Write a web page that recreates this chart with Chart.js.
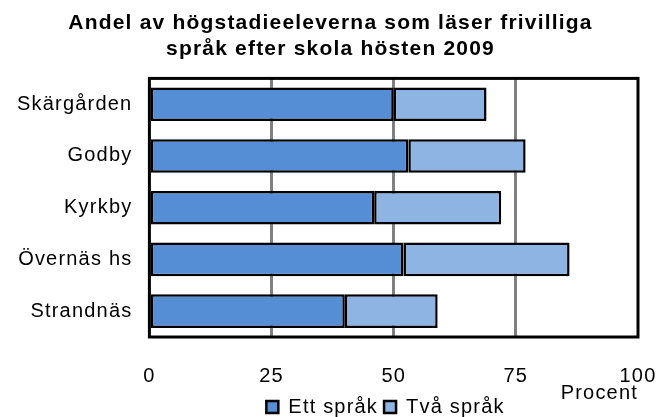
<!DOCTYPE html>
<html>
<head>
<meta charset="utf-8">
<script src="https://cdn.jsdelivr.net/npm/chart.js@4"></script>
<style>
  html, body { margin: 0; padding: 0; background: #fff; }
  #wrap { width: 661px; height: 417px; }
</style>
</head>
<body>
<div id="wrap"><canvas id="chart"></canvas></div>
<script>
const schools = ["Skärgården", "Godby", "Kyrkby", "Övernäs hs", "Strandnäs"];
const ettSprak = [50, 53, 46, 52, 40];
const tvaSprak = [19, 24, 26, 34, 19];
const xTicks = [0, 25, 50, 75, 100];

const fontFamily = "'Liberation Sans', Arial, sans-serif";

// the original text is set a bit loose, so widen the letters on the canvas
const spacing = {
    id: 'spacing',
    beforeUpdate(chart) { chart.ctx.letterSpacing = '1.2px'; },
    beforeLayout(chart) { chart.ctx.letterSpacing = '1.2px'; },
    beforeDraw(chart) { chart.ctx.letterSpacing = '1.2px'; }
};

// legend sits right of centre in the original
const legendShift = {
    id: 'legendShift',
    afterLayout(chart) {
        chart.legend.left += 55;
        chart.legend.right += 55;
    }
};

// black frame around the plot area
const frame = {
    id: 'frame',
    afterDraw(chart) {
        const a = chart.chartArea;
        const ctx = chart.ctx;
        ctx.save();
        ctx.strokeStyle = '#000';
        ctx.lineWidth = 3;
        ctx.strokeRect(a.left, a.top, a.right - a.left, a.bottom - a.top);
        ctx.restore();
    }
};

new Chart(document.getElementById('chart'), {
    type: 'bar',
    data: {
        labels: schools,
        datasets: [{
            label: 'Ett språk',
            data: ettSprak,
            backgroundColor: '#558ED5',
            borderColor: '#000',
            borderWidth: 2.5,
            borderSkipped: false,
            barPercentage: 0.65,
            categoryPercentage: 1
        }, {
            label: 'Två språk',
            data: tvaSprak,
            backgroundColor: '#8EB4E3',
            borderColor: '#000',
            borderWidth: 2.5,
            borderSkipped: false,
            barPercentage: 0.65,
            categoryPercentage: 1
        }]
    },
    options: {
        indexAxis: 'y',
        responsive: true,
        maintainAspectRatio: false,
        animation: false,
        layout: { padding: { left: 0, right: 0, top: 0, bottom: -10 } },
        plugins: {
            title: {
                display: true,
                text: ['Andel av högstadieeleverna som läser frivilliga', 'språk efter skola hösten 2009'],
                color: '#000',
                font: { family: fontFamily, size: 21, weight: 'bold' },
                padding: { top: 11, bottom: 17 },
                lineHeight: 1.2
            },
            legend: {
                position: 'bottom',
                labels: {
                    color: '#000',
                    font: { family: fontFamily, size: 20 },
                    boxWidth: 12,
                    boxHeight: 12,
                    padding: 6
                }
            },
            tooltip: { enabled: false }
        },
        scales: {
            x: {
                stacked: true,
                min: 0,
                max: 100,
                afterBuildTicks(axis) {
                    axis.ticks = xTicks.map(v => ({ value: v }));
                },
                afterFit(axis) {
                    // tick padding is only meant vertically here
                    axis.paddingRight = 23;
                    axis.paddingLeft = 10;
                },
                grid: {
                    color: ctx => (ctx.tick && ctx.tick.value > 0 && ctx.tick.value < 100) ? '#808080' : 'rgba(0,0,0,0)',
                    lineWidth: 3,
                    drawTicks: false
                },
                border: { display: false },
                ticks: {
                    color: '#000',
                    font: { family: fontFamily, size: 20 },
                    padding: 27,
                    maxRotation: 0
                },
                title: {
                    display: true,
                    text: 'Procent',
                    align: 'end',
                    color: '#000',
                    font: { family: fontFamily, size: 20 },
                    padding: { top: -34, bottom: -14 }
                }
            },
            y: {
                stacked: true,
                grid: { display: false, drawTicks: false },
                border: { display: false },
                ticks: {
                    color: '#000',
                    font: { family: fontFamily, size: 20 },
                    padding: 17
                }
            }
        }
    },
    plugins: [spacing, legendShift, frame]
});
</script>
</body>
</html>
